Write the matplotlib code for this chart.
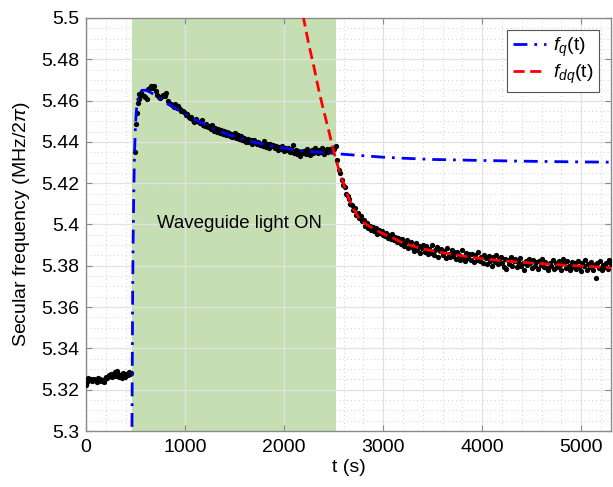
import numpy as np
import matplotlib
matplotlib.use("Agg")
import matplotlib.pyplot as plt
from matplotlib.ticker import MultipleLocator, FuncFormatter

plt.rcParams['font.family'] = ['Liberation Sans', 'DejaVu Sans']
plt.rcParams['mathtext.fontset'] = 'custom'
plt.rcParams['mathtext.rm'] = 'Liberation Sans'
plt.rcParams['mathtext.it'] = 'Liberation Sans:italic'

# ---------------- data ----------------
# measured points, before the light is switched on
t_before = np.arange(0, 457, 12)
f_before = [5.3225, 5.3235, 5.3255, 5.3245, 5.3252, 5.3240, 5.3248, 5.3250, 5.3243, 5.3238,
            5.3255, 5.3245, 5.3250, 5.3240, 5.3248, 5.3236, 5.3252, 5.3262, 5.3258, 5.3270,
            5.3265, 5.3278, 5.3262, 5.3272, 5.3285, 5.3268, 5.3290, 5.3275, 5.3262, 5.3270,
            5.3258, 5.3280, 5.3268, 5.3262, 5.3275, 5.3270, 5.3284, 5.3276, 5.3282]

# the rise right after switching on
t_rise = [494, 505, 510, 521, 530]
f_rise = [5.4353, 5.4487, 5.4538, 5.4587, 5.4610]

# while the light is on
t_on = np.arange(540, 2521, 15)
f_on = [5.4630, 5.4635, 5.4625, 5.4620, 5.4618, 5.4610, 5.4655, 5.4662, 5.4670, 5.4660,
        5.4672, 5.4648, 5.4625, 5.4618, 5.4612, 5.4620, 5.4628, 5.4622, 5.4635, 5.4600,
        5.4590, 5.4585, 5.4578, 5.4570, 5.4582, 5.4565, 5.4572, 5.4560, 5.4552, 5.4548,
        5.4545, 5.4528, 5.4535, 5.4520, 5.4515, 5.4522, 5.4508, 5.4498, 5.4512, 5.4503,
        5.4498, 5.4490, 5.4505, 5.4482, 5.4478, 5.4488, 5.4470, 5.4475, 5.4462, 5.4480,
        5.4455, 5.4468, 5.4450, 5.4462, 5.4445, 5.4458, 5.4440, 5.4452, 5.4435, 5.4448,
        5.4442, 5.4430, 5.4425, 5.4438, 5.4445, 5.4420, 5.4432, 5.4415, 5.4428, 5.4410,
        5.4418, 5.4405, 5.4400, 5.4412, 5.4398, 5.4408, 5.4392, 5.4410, 5.4400, 5.4388,
        5.4398, 5.4385, 5.4392, 5.4380, 5.4405, 5.4375, 5.4388, 5.4372, 5.4390, 5.4382,
        5.4385, 5.4370, 5.4378, 5.4362, 5.4375, 5.4368, 5.4380, 5.4355, 5.4372, 5.4360,
        5.4370, 5.4352, 5.4365, 5.4385, 5.4348, 5.4362, 5.4340, 5.4358, 5.4330, 5.4350,
        5.4345, 5.4358, 5.4340, 5.4365, 5.4352, 5.4338, 5.4360, 5.4348, 5.4372, 5.4355,
        5.4345, 5.4362, 5.4350, 5.4370, 5.4342, 5.4358, 5.4365, 5.4352, 5.4368, 5.4360,
        5.4372, 5.4365, 5.4378]

# after the light is switched off
t_off = np.arange(2535, 5296, 15)
f_off = [5.4310, 5.4265, 5.4250, 5.4215, 5.4190, 5.4182, 5.4150, 5.4140, 5.4125, 5.4100,
         5.4095, 5.4070, 5.4080, 5.4048, 5.4055, 5.4030, 5.4040, 5.4015, 5.4022, 5.3995,
         5.4005, 5.3985, 5.3992, 5.3975, 5.3990, 5.3970, 5.3982, 5.3955, 5.3975, 5.3960,
         5.3968, 5.3950, 5.3945, 5.3960, 5.3935, 5.3948, 5.3930, 5.3955, 5.3925, 5.3940,
         5.3915, 5.3935, 5.3920, 5.3905, 5.3930, 5.3895, 5.3912, 5.3925, 5.3885, 5.3905,
         5.3915, 5.3885, 5.3870, 5.3908, 5.3878, 5.3898, 5.3862, 5.3888, 5.3902, 5.3868,
         5.3895, 5.3855, 5.3882, 5.3862, 5.3900, 5.3850, 5.3875, 5.3890, 5.3845, 5.3872,
         5.3882, 5.3850, 5.3870, 5.3840, 5.3885, 5.3858, 5.3842, 5.3875, 5.3848, 5.3868,
         5.3835, 5.3868, 5.3850, 5.3830, 5.3875, 5.3842, 5.3825, 5.3862, 5.3838, 5.3858,
         5.3830, 5.3855, 5.3818, 5.3850, 5.3828, 5.3865, 5.3822, 5.3845, 5.3812, 5.3852,
         5.3840, 5.3810, 5.3848, 5.3825, 5.3800, 5.3845, 5.3818, 5.3850, 5.3808, 5.3835,
         5.3842, 5.3812, 5.3795, 5.3835, 5.3785, 5.3828, 5.3808, 5.3842, 5.3800, 5.3822,
         5.3832, 5.3795, 5.3818, 5.3838, 5.3798, 5.3815, 5.3780, 5.3825, 5.3802, 5.3835,
         5.3815, 5.3790, 5.3830, 5.3798, 5.3820, 5.3785, 5.3825, 5.3802, 5.3832, 5.3795,
         5.3818, 5.3790, 5.3778, 5.3815, 5.3798, 5.3828, 5.3785, 5.3812, 5.3792, 5.3822,
         5.3805, 5.3782, 5.3835, 5.3815, 5.3788, 5.3825, 5.3800, 5.3778, 5.3818, 5.3795,
         5.3812, 5.3785, 5.3822, 5.3795, 5.3775, 5.3815, 5.3798, 5.3828, 5.3782, 5.3808,
         5.3795, 5.3818, 5.3780, 5.3802, 5.3740, 5.3812, 5.3790, 5.3825, 5.3782, 5.3805,
         5.3795, 5.3815, 5.3785, 5.3828, 5.3808]

# fitted curve f_q(t)
t_fq = [460, 466, 470, 475, 482, 490, 500, 512, 525, 540, 565, 600, 640, 700, 800, 900,
        1000, 1100, 1200, 1300, 1400, 1500, 1600, 1700, 1800, 1900, 2000, 2100, 2200,
        2300, 2400, 2500, 2600, 2800, 3000, 3200, 3500, 4000, 4500, 5000, 5300]
f_q = [5.26, 5.32, 5.36, 5.39, 5.415, 5.435, 5.449, 5.457, 5.461, 5.4635, 5.4650, 5.4650,
       5.4643, 5.4625, 5.4592, 5.4563, 5.4535, 5.4508, 5.4485, 5.4462, 5.4442, 5.4425,
       5.4410, 5.4398, 5.4387, 5.4378, 5.4370, 5.4363, 5.4357, 5.4352, 5.4348, 5.4344,
       5.4340, 5.4333, 5.4326, 5.4321, 5.4315, 5.4310, 5.4306, 5.4303, 5.4302]

# fitted curve f_dq(t)
t_fdq = [2150, 2200, 2250, 2300, 2350, 2400, 2450, 2500, 2550, 2600, 2650, 2700, 2750,
         2800, 2900, 3000, 3100, 3200, 3400, 3600, 3800, 4000, 4200, 4400, 4600, 4800,
         5000, 5300]
f_dq = [5.515, 5.499, 5.487, 5.4765, 5.465, 5.455, 5.4455, 5.4355, 5.427, 5.4195, 5.413,
        5.4075, 5.4035, 5.4010, 5.3980, 5.3955, 5.3935, 5.3910, 5.3882, 5.3863, 5.3848,
        5.3834, 5.3825, 5.3817, 5.3810, 5.3804, 5.3799, 5.3791]

light_on = (465, 2525)
x_ticks = [0, 1000, 2000, 3000, 4000, 5000]
y_ticks = [5.3, 5.32, 5.34, 5.36, 5.38, 5.4, 5.42, 5.44, 5.46, 5.48, 5.5]

# ---------------- figure ----------------
fig = plt.figure(figsize=(6.13, 4.87), dpi=100)
ax = fig.add_axes([86/613, 56/487, 525/613, 413/487])

ax.axvspan(light_on[0], light_on[1], color='#c5dfb3', lw=0, zorder=1)
ax.set_axisbelow('line')

t_all = np.concatenate([t_before, t_rise, t_on, t_off])
f_all = np.concatenate([f_before, f_rise, f_on, f_off])
ax.plot(t_all, f_all, 'o', color='black', ms=3.8, mew=0, zorder=3)

ax.plot(t_fq, f_q, color='#0000ff', lw=2, linestyle=(0, (5, 2.5, 1, 2.5)),
        label=r'$f_q$(t)', zorder=4)
ax.plot(t_fdq, f_dq, color='#ff0000', lw=2, linestyle=(0, (4, 2)),
        label=r'$f_{dq}$(t)', zorder=4)

ax.text(713, 5.4007, 'Waveguide light ON', fontsize=13.4, ha='left', va='center', zorder=5)

ax.set_xlim(0, 5300)
ax.set_ylim(5.3, 5.5)
ax.set_xticks(x_ticks)
ax.set_yticks(y_ticks)
ax.xaxis.set_minor_locator(MultipleLocator(200))
ax.yaxis.set_minor_locator(MultipleLocator(0.005))
ax.yaxis.set_major_formatter(FuncFormatter(lambda v, p: '%g' % round(v, 3)))

ax.grid(True, which='major', color='#e2e2e2', lw=0.9, ls='-')
ax.grid(True, which='minor', color='#cfcfcf', lw=0.7, ls=(0, (1, 3)))

for s in ax.spines.values():
    s.set_color('#8a8a8a')
    s.set_linewidth(1.0)
ax.tick_params(which='major', direction='in', length=4, width=0.8, color='#8a8a8a',
               top=True, right=True, labelsize=14, labelcolor='black')
ax.tick_params(axis='y', pad=5)
ax.tick_params(axis='x', pad=6)
ax.tick_params(which='minor', length=0)

ax.set_xlabel('t (s)', fontsize=14, labelpad=2)
ax.set_ylabel(r'Secular frequency (MHz/2$\pi$)', fontsize=14, labelpad=6)

leg = ax.legend(loc='upper right', fontsize=14, frameon=True, fancybox=False,
                edgecolor='#555555', framealpha=1, handlelength=1.7,
                borderaxespad=0.6, handletextpad=0.35, labelspacing=0.2,
                borderpad=0.3)
leg.get_frame().set_linewidth(0.8)

fig.savefig('out.png', dpi=100)
